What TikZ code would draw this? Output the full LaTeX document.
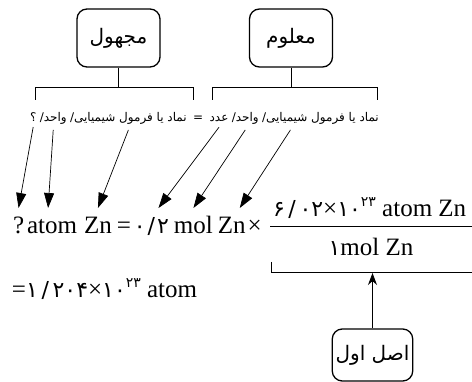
\documentclass[tikz,border=0pt]{standalone}
\usepackage{fontspec}
\setmainfont{Liberation Serif}
\newfontfamily\arabicfont[Script=Arabic]{DejaVu Sans}
\newfontfamily\digitfont{DejaVu Sans}
\TeXXeTstate=1
\usetikzlibrary{positioning,arrows.meta}

\newcommand{\fa}[1]{{\digitfont\fontsize{22}{26}\selectfont #1}}
\newcommand{\fasup}[1]{\raisebox{10pt}{\digitfont\fontsize{14}{16}\selectfont #1}}

\begin{document}
\begin{tikzpicture}[x=1pt, y=1pt,
  rolebox/.style={draw, line width=1.3pt, rounded corners=10pt, minimum width=83pt, minimum height=58pt, font=\arabicfont\fontsize{20}{24}\selectfont},
  note/.style={inner sep=0pt, outer ysep=5pt, font=\arabicfont\fontsize{12}{14}\selectfont},
  tok/.style={inner sep=0pt, outer xsep=0pt, outer ysep=9pt, text height=17pt, text depth=5pt, font=\fontsize{25}{30}\selectfont},
  pointer/.style={-{Triangle[length=15pt,width=10pt]}, line width=0.7pt},
  bracket/.style={line width=1pt}
]
\useasboundingbox (0,0) rectangle (472,-382);

% Boxes
\node[rolebox] (unknown) at (118.5,-38) {\beginR مجهول\endR};
\node[rolebox] (known) at (291,-38) {\beginR معلوم\endR};

% Brackets under the boxes
\coordinate (unkjoin) at (118.5,-88);
\coordinate (knjoin) at (291,-88);
\draw[bracket] (unknown) -- (unkjoin);
\draw[bracket] (known) -- (knjoin);
\draw[bracket] (35,-100) |- (193,-88) -- (193,-100);
\draw[bracket] (212,-100) |- (377,-88) -- (377,-100);

% Persian line
\node[note, anchor=base east] (knform) at (379,-122) {\beginR نماد یا فرمول شیمیایی/\endR};
\node[note, base left=3pt of knform] (knunit) {\beginR واحد/\endR};
\node[note, base left=3pt of knunit] (knnum) {\beginR عدد\endR};
\node[note, base left=6pt of knnum] (eqnote) {=};
\node[note, base left=6pt of eqnote] (unkform) {\beginR نماد یا فرمول شیمیایی/\endR};
\node[note, base left=3pt of unkform] (unkunit) {\beginR واحد/\endR};
\node[note, base left=3pt of unkunit] (unkq) {\beginR ؟\endR};

% Conversion line
\node[tok, anchor=base west] (q) at (13,-234) {?};
\node[tok, base right=3pt of q] (atom1) {atom};
\node[tok, base right=7pt of atom1] (zn1) {Zn};
\node[tok, base right=5pt of zn1] (eq1) {=};
\node[tok, base right=3pt of eq1] (amount) {\fa{۰\kern2pt/\kern2pt۲}};
\node[tok, base right=5pt of amount] (mol1) {mol};
\node[tok, base right=5pt of mol1] (zn2) {Zn};
\node[tok, base right=2pt of zn2] (times1) {×};

% Conversion factor
\node[tok, anchor=base west] (numer) at (273,-217) {\fa{۶\,/\,۰۲}×\fa{۱۰}\fasup{۲۳} atom Zn};
\node[tok, anchor=base] (denom) at (371,-256) {\fa{۱}mol Zn};
\draw[line width=1pt] (270,-227) -- (472,-227);

% Result
\node[tok, anchor=base west] (result) at (12,-298) {=\fa{۱\,/\,۲۰۴}×\fa{۱۰}\fasup{۲۳} atom};

% First principle
\node[rolebox, minimum width=79pt, minimum height=52pt] (principle) at (372.5,-355) {\beginR اصل اول\endR};
\coordinate (brk) at (372.5,-273);
\draw[bracket] (271,-262) |- (472,-273);
\draw[-{Stealth[length=12pt,width=9pt]}, line width=0.9pt] (principle) -- (brk);

% Arrows
\draw[pointer] (unkq.south) -- (q.north);
\draw[pointer] (unkunit.south) -- ([xshift=-4pt]atom1.north);
\draw[pointer] (unkform.south) -- (zn1.north);
\draw[pointer] (knnum.south) -- ([xshift=7pt]amount.north);
\draw[pointer] (knunit.south) -- (mol1.north);
\draw[pointer] ([xshift=-30pt]knform.south) -- ([xshift=8pt]zn2.north);
\end{tikzpicture}
\end{document}
